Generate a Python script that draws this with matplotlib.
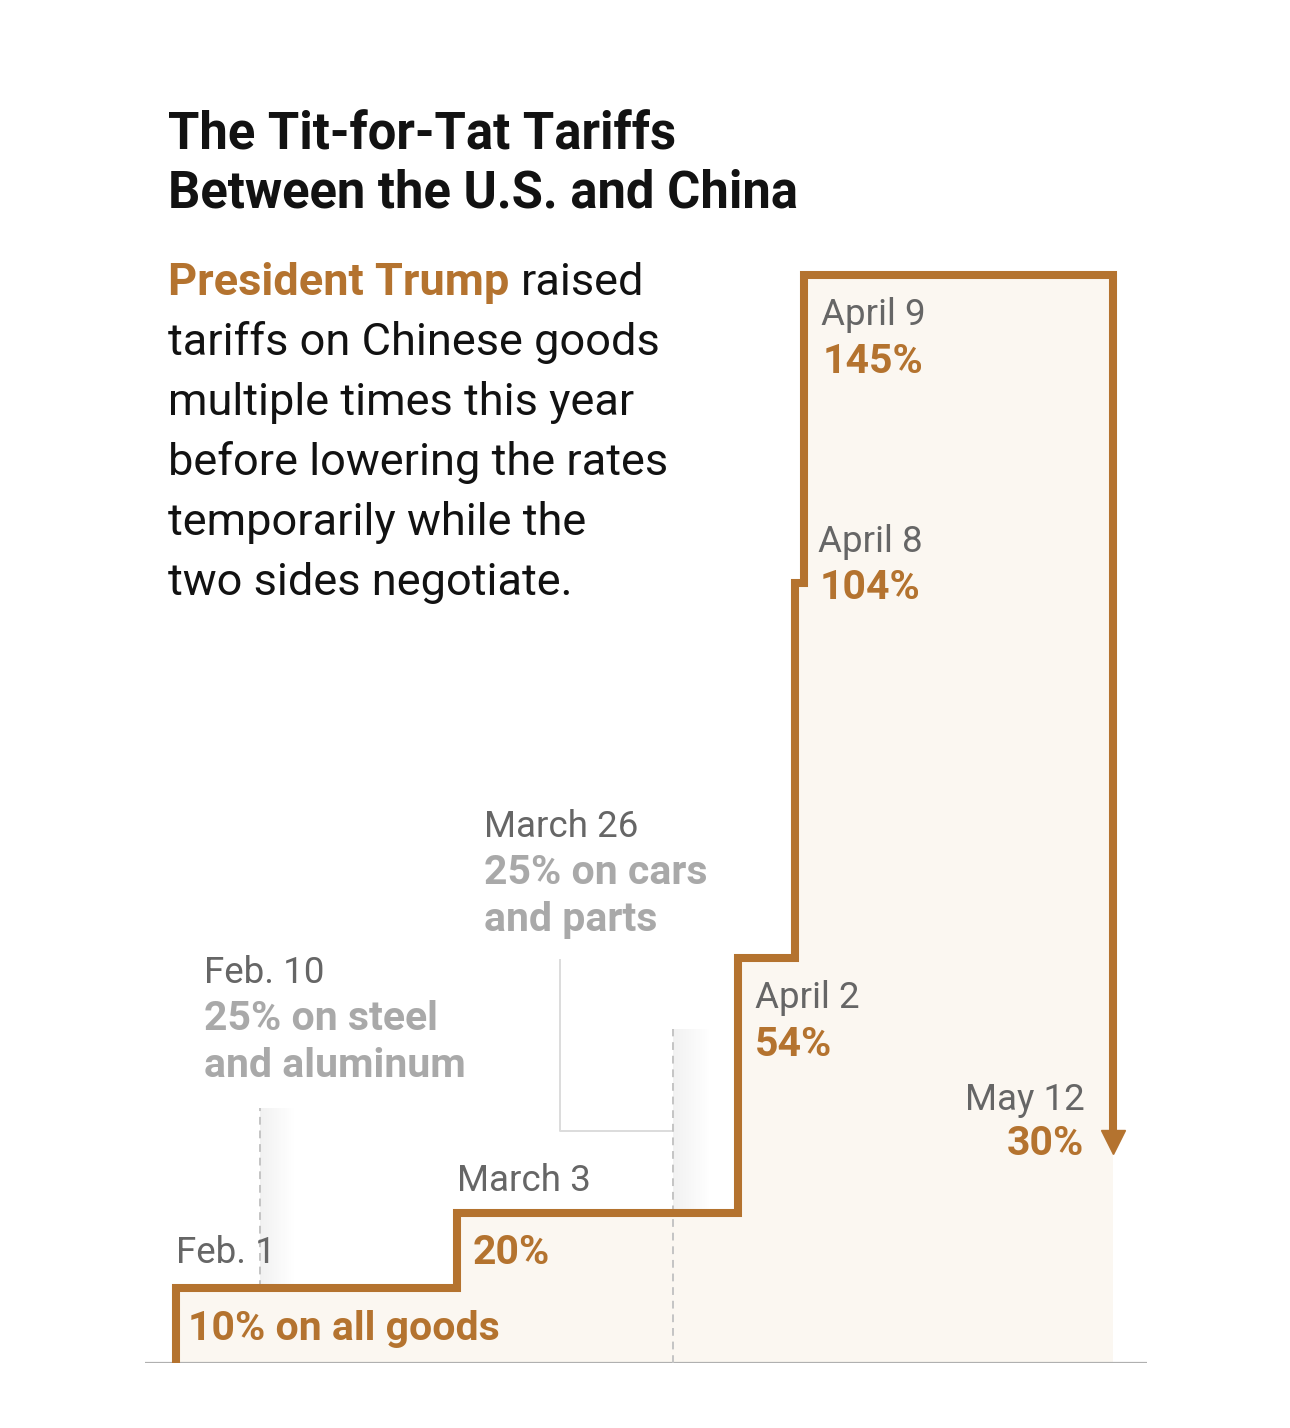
import numpy as np
import matplotlib
matplotlib.use("Agg")
import matplotlib.pyplot as plt
import matplotlib.dates as mdates
from matplotlib.transforms import ScaledTranslation

# tariff steps on Chinese goods
dates = np.array(["2025-02-01", "2025-03-03", "2025-04-02", "2025-04-08", "2025-04-09"], dtype="datetime64[D]")
rates = [10, 20, 54, 104, 145]
date_labels = ["Feb. 1", "March 3", "April 2", "April 8", "April 9"]
rate_labels = ["10% on all goods", "20%", "54%", "104%", "145%"]

cut_date = np.datetime64("2025-05-12")
cut_rate = 30
cut_labels = ["May 12", "30%"]

# other (non China specific) tariffs
other_dates = np.array(["2025-02-10", "2025-03-26"], dtype="datetime64[D]")
other_labels = ["Feb. 10", "March 26"]
other_text = [["25% on steel", "and aluminum"], ["25% on cars", "and parts"]]

BROWN = "#b4732f"
GRAY = "#666666"
LIGHT = "#a9a9a9"
FILL = "#fbf7f1"
FONT = ["Roboto", "DejaVu Sans"]

W, H = 1290, 1428
fig = plt.figure(figsize=(W / 100, H / 100), dpi=100)
fig.patch.set_facecolor("white")

ax = fig.add_axes([145 / W, 65 / H, 1002 / W, 1125 / H])
ax.set_axis_off()

x = mdates.date2num(dates)
xc = mdates.date2num(cut_date)
xo = mdates.date2num(other_dates)

# step line
xs = np.concatenate([[x[0]], x, [xc]])
ys = [0] + rates + [rates[-1]]
ax.fill_between(xs, ys, step="post", color=FILL, lw=0, zorder=1)
ax.plot(list(xs) + [xc], ys + [cut_rate + 1], color=BROWN, lw=5.8,
        drawstyle="steps-post", solid_joinstyle="miter", solid_capstyle="butt", zorder=4)
head = ax.transData + ScaledTranslation(0, -4 / 100, fig.dpi_scale_trans)
ax.plot([xc], [cut_rate], marker="v", ms=17, color=BROWN, mec=BROWN, transform=head, zorder=4)

# baseline
ax.axhline(0, color="#b0b0b0", lw=1.6, zorder=3)

# markers for other tariffs
dash = dict(color="#c4c4c4", lw=1.4, ls=(0, (4, 3)), zorder=3)
ax.plot([xo[0], xo[0]], [rates[0], 34], **dash)
ax.plot([xo[1], xo[1]], [0, 44.5], **dash)
grad = np.zeros((1, 64, 4))
grad[..., :3] = 0.55
grad[..., 3] = np.linspace(0.12, 0.0, 64)
ax.imshow(grad, extent=(xo[0], xo[0] + 3.7, rates[0], 34), aspect="auto", zorder=2, interpolation="bilinear")
ax.imshow(grad, extent=(xo[1], xo[1] + 4.0, rates[1], 44.5), aspect="auto", zorder=2, interpolation="bilinear")
ax.set_xlim(x[0] - 3.3, x[0] + 103.6)
ax.set_ylim(0, 150)

# connector for March 26 label
x_conn = xo[1] - 12
ax.plot([x_conn, x_conn, xo[1]], [53.7, 31, 31], color="#dcdcdc", lw=1.4, zorder=2)


def label(txt, xy, off, color, bold=False, ha="left"):
    ax.annotate(txt, xy=xy, xytext=off, textcoords="offset pixels",
                ha=ha, va="baseline", color=color, family=FONT,
                fontsize=29.5 if bold else 26.5,
                fontweight="bold" if bold else "normal", zorder=5)


date_off = [(0, 25), (0, 22), (17, -50), (23, 31), (17, -50)]
rate_off = [(12, -52), (15, -51), (17, -98), (25, -16), (19, -98)]
for i in range(len(dates)):
    label(date_labels[i], (x[i], rates[i]), date_off[i], GRAY)
    label(rate_labels[i], (x[i], rates[i]), rate_off[i], BROWN, bold=True)

label(cut_labels[0], (xc, cut_rate), (-29, 28), GRAY, ha="right")
label(cut_labels[1], (xc, cut_rate), (-29, -17), BROWN, bold=True, ha="right")

anchors = [(xo[0], 34, -56, 125), (x_conn, 53.7, -76, 123)]
for (ax_x, ax_y, dx, dy), lab, lines in zip(anchors, other_labels, other_text):
    label(lab, (ax_x, ax_y), (dx, dy), GRAY)
    for j, ln in enumerate(lines):
        label(ln, (ax_x, ax_y), (dx, dy - 47 - j * 47), LIGHT, bold=True)


# title and intro text, in pixel positions from the top
def px(xp, yp):
    return xp / W, 1 - yp / H


fig.text(*px(168, 150), "The Tit-for-Tat Tariffs", family=FONT, fontweight="bold",
         fontsize=36.5, color="#121212", va="baseline")
fig.text(*px(168, 207), "Between the U.S. and China", family=FONT, fontweight="bold",
         fontsize=36.5, color="#121212", va="baseline")

intro = ["raised", "tariffs on Chinese goods", "multiple times this year",
         "before lowering the rates", "temporarily while the", "two sides negotiate."]
t0 = fig.text(*px(168, 295), "President Trump", family=FONT, fontweight="bold",
              fontsize=32.5, color=BROWN, va="baseline")
r = fig.canvas.get_renderer()
bb = t0.get_window_extent(r)
fig.text(bb.x1 / W + 12 / W, 1 - 295 / H, intro[0], family=FONT, fontsize=32.5,
         color="#121212", va="baseline")
for k, ln in enumerate(intro[1:]):
    fig.text(*px(168, 355 + 60 * k), ln, family=FONT, fontsize=32.5,
             color="#121212", va="baseline")

fig.savefig("out.png", dpi=100, facecolor="white")
